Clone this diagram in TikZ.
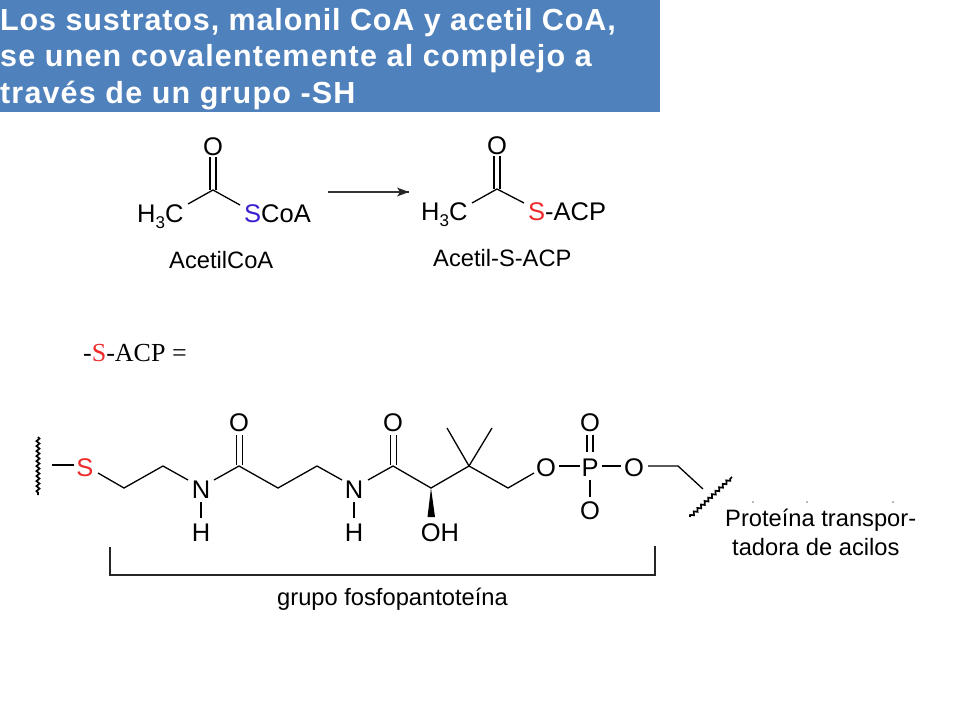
\documentclass[tikz,border=0pt]{standalone}
\usepackage{fontspec}
\setmainfont{Liberation Sans}
\newfontfamily\serifface{Liberation Serif}
\usetikzlibrary{decorations.pathmorphing}
\definecolor{titlebg}{HTML}{4F81BD}
\definecolor{sred}{HTML}{EE2A2A}
\definecolor{sblue}{HTML}{3A1FD0}
\newcommand{\fs}[1]{\fontsize{#1}{#1}\selectfont}
\tikzset{
  x=1pt,y=-1pt,
  atom/.style={anchor=base,inner sep=0pt,font=\fs{25.5}},
  lab/.style={anchor=base,inner sep=0pt,font=\fs{23.7}},
  head/.style={anchor=base west,inner sep=0pt,text=white,font=\fs{30.5}\bfseries},
  bond/.style={draw=black,line width=1.3pt,line join=miter},
  bracketline/.style={draw=black!85,line width=1.2pt},
  wavy/.style={draw=black,line width=1.7pt,decorate,decoration={snake,amplitude=1.5pt,segment length=5pt}},
  speck/.style={fill=black!55,circle,inner sep=0pt,minimum size=1.6pt}
}
\begin{document}
\begin{tikzpicture}
\useasboundingbox (0,0) rectangle (960,720);
\fill[white] (0,0) rectangle (960,720);
\fill[titlebg] (0,0) rectangle (660,112);
\node[head] (t1) at (0,30) {\addfontfeatures{LetterSpace=2.9}Los sustratos, malonil CoA y acetil CoA,};
\node[head] (t2) at (0,66.5) {\addfontfeatures{LetterSpace=3.9}se unen covalentemente al complejo a};
\node[head] (t3) at (0,103) {\addfontfeatures{LetterSpace=3.8}través de un grupo -SH};

% Acetyl CoA
\coordinate (c1) at (213,190);
\node[atom] (o1) at (213,155) {O};
\node[atom,anchor=base west] (me1) at (137,222) {H\raisebox{-0.25em}{\fs{17}3}C};
\node[atom,anchor=base west] (s1) at (244,222) {\textcolor{sblue}{S}CoA};
\coordinate (b1a) at (188,204); \coordinate (b1b) at (240,205);
\coordinate (d1a) at (210,157); \coordinate (d1b) at (210,190);
\coordinate (d1c) at (216,157); \coordinate (d1d) at (216,190);
\draw[bond] (b1a) -- (c1) -- (b1b);
\draw[bond] (d1a) -- (d1b);
\draw[bond] (d1c) -- (d1d);

% arrow
\coordinate (ar1) at (328,192); \coordinate (ar2) at (409,192);
\draw[draw=black!80,line width=1.2pt] (ar1) -- (ar2);
\fill[black!85] (409,192) -- (397,187.5) -- (400,192) -- (397,196.5) -- cycle;

% Acetyl-S-ACP
\coordinate (c2) at (497,189);
\node[atom] (o2) at (497,154) {O};
\node[atom,anchor=base west] (me2) at (421,220) {H\raisebox{-0.25em}{\fs{17}3}C};
\node[atom,anchor=base west] (s2) at (528,220) {\textcolor{sred}{S}-ACP};
\coordinate (b2a) at (472,203); \coordinate (b2b) at (524,203);
\coordinate (d2a) at (494,156); \coordinate (d2b) at (494,189);
\coordinate (d2c) at (500,156); \coordinate (d2d) at (500,189);
\draw[bond] (b2a) -- (c2) -- (b2b);
\draw[bond] (d2a) -- (d2b);
\draw[bond] (d2c) -- (d2d);

\node[lab,anchor=base west] (l1) at (169,268) {AcetilCoA};
\node[lab,anchor=base west] (l2) at (433,266) {Acetil-S-ACP};
\node[anchor=base west,inner sep=0pt,font=\serifface\fs{26}] (l3) at (83,361) {-\textcolor{sred}{S}-ACP =};

% Phosphopantetheine
\coordinate (w1a) at (38,437); \coordinate (w1b) at (38,495);
\draw[wavy] (w1a) -- (w1b);
\node[atom] (s3) at (85,476) {\textcolor{sred}{S}};
\coordinate (s3l) at (52,465); \coordinate (s3le) at (74,465);
\draw[bond] (s3l) -- (s3le);
\coordinate (p1) at (98,473); \coordinate (p2) at (124,488); \coordinate (p3) at (163,466); \coordinate (p4) at (188,480);
\draw[bond] (p1) -- (p2) -- (p3) -- (p4);
\node[atom] (n1) at (201,498) {N};
\node[atom] (h1) at (201,541) {H};
\coordinate (n1a) at (201,502); \coordinate (n1b) at (201,518);
\draw[bond] (n1a) -- (n1b);
\coordinate (q1) at (214,480); \coordinate (q2) at (239,466); \coordinate (q3) at (278,488); \coordinate (q4) at (317,466); \coordinate (q5) at (342,480);
\draw[bond] (q1) -- (q2) -- (q3) -- (q4) -- (q5);
\node[atom] (o3) at (239,431) {O};
\coordinate (e1a) at (236.5,435); \coordinate (e1b) at (236.5,465); \coordinate (e1c) at (242.5,435); \coordinate (e1d) at (242.5,465);
\draw[bond] (e1a) -- (e1b);
\draw[bond] (e1c) -- (e1d);
\node[atom] (n2) at (354,498) {N};
\node[atom] (h2) at (354,541) {H};
\coordinate (n2a) at (354,502); \coordinate (n2b) at (354,518);
\draw[bond] (n2a) -- (n2b);
\coordinate (r1) at (368,480); \coordinate (r2) at (393,466); \coordinate (r3) at (431,488); \coordinate (r4) at (469,466); \coordinate (r5) at (508,488); \coordinate (r6) at (534,473);
\draw[bond] (r1) -- (r2) -- (r3) -- (r4) -- (r5) -- (r6);
\node[atom] (o4) at (393,431) {O};
\coordinate (e2a) at (390.5,435); \coordinate (e2b) at (390.5,465); \coordinate (e2c) at (396.5,435); \coordinate (e2d) at (396.5,465);
\draw[bond] (e2a) -- (e2b);
\draw[bond] (e2c) -- (e2d);
\coordinate (m1) at (447,428); \coordinate (m2) at (492,428);
\draw[bond] (m1) -- (r4) -- (m2);
\coordinate (wa) at (427.5,517); \coordinate (wb) at (435,517);
\fill[black] (r3) -- (wa) -- (wb) -- cycle;
\node[atom] (oh) at (440,541) {OH};
\node[atom] (o5) at (546,476) {O};
\node[atom] (pp) at (590,476) {P};
\node[atom] (o6) at (634,476) {O};
\node[atom] (o7) at (590,431) {O};
\node[atom] (o8) at (590,519) {O};
\coordinate (f1) at (559,466); \coordinate (f2) at (580,466); \coordinate (f3) at (602,466); \coordinate (f4) at (621,466);
\draw[bond] (f1) -- (f2);
\draw[bond] (f3) -- (f4);
\coordinate (g1) at (587,435); \coordinate (g2) at (587,452); \coordinate (g3) at (593,435); \coordinate (g4) at (593,452);
\draw[bond] (g1) -- (g2);
\draw[bond] (g3) -- (g4);
\coordinate (g5) at (590,480); \coordinate (g6) at (590,497);
\draw[bond] (g5) -- (g6);
\coordinate (k1) at (648,466); \coordinate (k2) at (678,466); \coordinate (k3) at (703,489);
\draw[bond] (k1) -- (k2) -- (k3);
\coordinate (w2a) at (690,517); \coordinate (w2b) at (732,477);
\draw[wavy] (w2a) -- (w2b);

% bracket
\coordinate (br1) at (110,547); \coordinate (br2) at (110,575); \coordinate (br3) at (655,575); \coordinate (br4) at (655,546);
\draw[bracketline] (br1) -- (br2) -- (br3) -- (br4);
\node[lab,anchor=base west] (l4) at (277,605) {grupo fosfopantoteína};
\node[lab,anchor=base west] (l5) at (725,526) {Proteína transpor-};
\node[lab,anchor=base west] (l6) at (732,555) {tadora de acilos};

\node[speck] (sp1) at (753,502) {};
\node[speck] (sp2) at (807,502) {};
\node[speck] (sp3) at (893,502) {};
\end{tikzpicture}
\end{document}
